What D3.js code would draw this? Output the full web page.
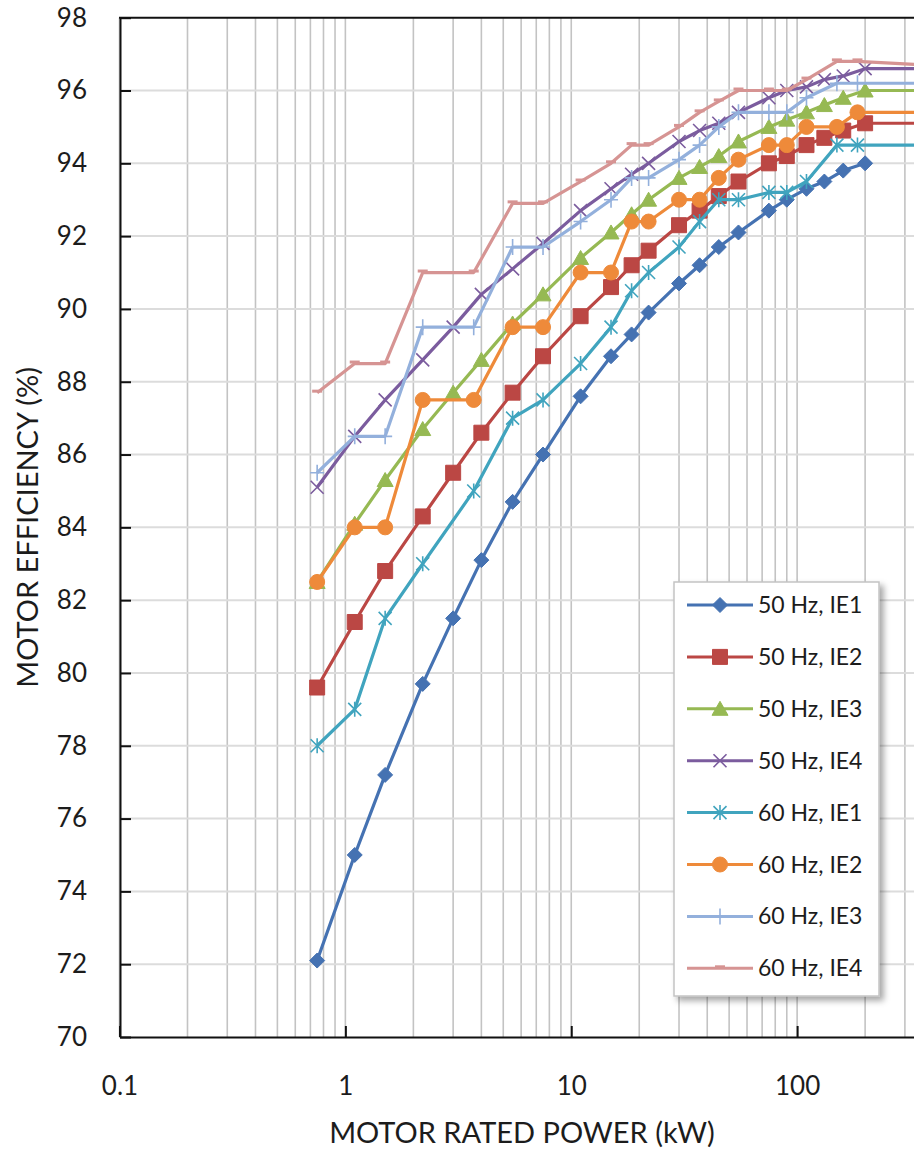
<!DOCTYPE html>
<html>
<head>
<meta charset="utf-8">
<script src="https://cdn.jsdelivr.net/npm/d3@7"></script>
<style>
	body { margin: 0; background: #fff; }
	svg text { font-family: Lato, "Open Sans", sans-serif; fill: #1c1c1c; }
</style>
</head>
<body>
<div id="chart"></div>
<script>
// Motor efficiency classes IE1-IE4, 50 Hz and 60 Hz, against rated power (log axis)

// rated power steps (kW)
var power50 = [0.75, 1.1, 1.5, 2.2, 3, 4, 5.5, 7.5, 11, 15, 18.5, 22, 30, 37, 45, 55, 75, 90, 110, 132, 160, 200, 375];
var power60 = [0.75, 1.1, 1.5, 2.2, 3.7, 5.5, 7.5, 11, 15, 18.5, 22, 30, 37, 45, 55, 75, 90, 110, 150, 185, 375];

// efficiency (%) per class
var eff50_IE1 = [72.1, 75.0, 77.2, 79.7, 81.5, 83.1, 84.7, 86.0, 87.6, 88.7, 89.3, 89.9, 90.7, 91.2, 91.7, 92.1, 92.7, 93.0, 93.3, 93.5, 93.8, 94.0];
var eff50_IE2 = [79.6, 81.4, 82.8, 84.3, 85.5, 86.6, 87.7, 88.7, 89.8, 90.6, 91.2, 91.6, 92.3, 92.7, 93.1, 93.5, 94.0, 94.2, 94.5, 94.7, 94.9, 95.1, 95.1];
var eff50_IE3 = [82.5, 84.1, 85.3, 86.7, 87.7, 88.6, 89.6, 90.4, 91.4, 92.1, 92.6, 93.0, 93.6, 93.9, 94.2, 94.6, 95.0, 95.2, 95.4, 95.6, 95.8, 96.0, 96.0];
var eff50_IE4 = [85.1, 86.5, 87.5, 88.6, 89.5, 90.4, 91.1, 91.8, 92.7, 93.3, 93.7, 94.0, 94.6, 94.9, 95.1, 95.4, 95.8, 96.0, 96.1, 96.3, 96.4, 96.6, 96.6];
var eff60_IE1 = [78.0, 79.0, 81.5, 83.0, 85.0, 87.0, 87.5, 88.5, 89.5, 90.5, 91.0, 91.7, 92.4, 93.0, 93.0, 93.2, 93.2, 93.5, 94.5, 94.5, 94.5];
var eff60_IE2 = [82.5, 84.0, 84.0, 87.5, 87.5, 89.5, 89.5, 91.0, 91.0, 92.4, 92.4, 93.0, 93.0, 93.6, 94.1, 94.5, 94.5, 95.0, 95.0, 95.4, 95.4];
var eff60_IE3 = [85.5, 86.5, 86.5, 89.5, 89.5, 91.7, 91.7, 92.4, 93.0, 93.6, 93.6, 94.1, 94.5, 95.0, 95.4, 95.4, 95.4, 95.8, 96.2, 96.2, 96.2];
var eff60_IE4 = [87.7, 88.5, 88.5, 91.0, 91.0, 92.9, 92.9, 93.5, 94.0, 94.5, 94.5, 95.0, 95.4, 95.7, 96.0, 96.0, 96.0, 96.3, 96.8, 96.8, 96.7];

var seriesNames = ["50 Hz, IE1", "50 Hz, IE2", "50 Hz, IE3", "50 Hz, IE4", "60 Hz, IE1", "60 Hz, IE2", "60 Hz, IE3", "60 Hz, IE4"];
var xTickValues = [0.1, 1, 10, 100];
var yTickValues = [70, 72, 74, 76, 78, 80, 82, 84, 86, 88, 90, 92, 94, 96, 98];

var colors = ["#4572b2", "#bb4744", "#96b953", "#7b5c9e", "#40a4be", "#ee8a3a", "#93b0dc", "#d69493"];
var markers = ["diamond", "square", "triangle", "x", "asterisk", "circle", "plus", "dash"];

// build series table
var powers = [power50, power50, power50, power50, power60, power60, power60, power60];
var effs = [eff50_IE1, eff50_IE2, eff50_IE3, eff50_IE4, eff60_IE1, eff60_IE2, eff60_IE3, eff60_IE4];
var series = seriesNames.map(function(name, i) {
	return {
		name: name,
		color: colors[i],
		marker: markers[i],
		points: effs[i].map(function(v, j) { return {p: powers[i][j], v: v}; })
	};
});

var width = 914, height = 1149;
var plotLeft = 120, plotTop = 17.7, plotBottom = 1037;

var x = d3.scaleLog().domain([0.1, 1000]).range([119.5, 1023]);
var y = d3.scaleLinear().domain([70, 98]).range([plotBottom, plotTop]);

var svg = d3.select("#chart")
	.append("svg")
		.attr("width", width)
		.attr("height", height);

// marker shapes
function markerPath(type) {
	switch (type) {
		case "diamond": return "M0,-7.5L7.5,0L0,7.5L-7.5,0Z";
		case "square": return "M-7.5,-7.5H7.5V7.5H-7.5Z";
		case "triangle": return "M0,-7.5L8,6.5L-8,6.5Z";
		case "x": return "M-6.5,-6.5L6.5,6.5M-6.5,6.5L6.5,-6.5";
		case "asterisk": return "M-6.5,-6.5L6.5,6.5M-6.5,6.5L6.5,-6.5M0,-7.5V7.5";
		case "circle": return "M7.5,0A7.5,7.5 0 1,1 -7.5,0A7.5,7.5 0 1,1 7.5,0Z";
		case "plus": return "M-7,0H7M0,-8V8";
		case "dash": return "M-5,-1.5H5";
	}
}
function isFilled(type) {
	return type == "diamond" || type == "square" || type == "triangle" || type == "circle";
}
function drawMarker(sel, s) {
	sel.append("path")
		.attr("d", markerPath(s.marker))
		.attr("fill", isFilled(s.marker) ? s.color : "none")
		.attr("stroke", s.color)
		.attr("stroke-width", isFilled(s.marker) ? 1 : (s.marker == "dash" ? 3 : 1.6));
}

// vertical grid lines (every minor step of the log axis)
var vGrid = [];
[0.1, 1, 10, 100].forEach(function(d) {
	for (var k = 1; k < 10; k++) vGrid.push(d * k);
});
vGrid.push(1000);

svg.append("g")
	.selectAll("line")
	.data(vGrid)
	.enter().append("line")
		.attr("x1", function(d) { return x(d); })
		.attr("x2", function(d) { return x(d); })
		.attr("y1", y(70))
		.attr("y2", y(98))
		.attr("stroke", "#c3c3c3")
		.attr("stroke-width", 1.6);

// horizontal grid lines
svg.append("g")
	.selectAll("line")
	.data(yTickValues.filter(function(d) { return d > 70 && d < 98; }))
	.enter().append("line")
		.attr("x1", plotLeft)
		.attr("x2", width)
		.attr("y1", function(d) { return y(d); })
		.attr("y2", function(d) { return y(d); })
		.attr("stroke", "#dcdcdc")
		.attr("stroke-width", 2);

// axes
var yAxis = d3.axisLeft(y)
	.tickValues(yTickValues)
	.tickSizeInner(-11)
	.tickSizeOuter(0)
	.tickPadding(33)
	.tickFormat(d3.format("d"));

var xAxis = d3.axisBottom(x)
	.tickValues(xTickValues)
	.tickSizeInner(-11)
	.tickSizeOuter(0)
	.tickPadding(40)
	.tickFormat(function(d) { return d < 1 ? "0.1" : d3.format("d")(d); });

svg.append("g")
	.attr("class", "y axis")
	.attr("transform", "translate(" + plotLeft + ",0)")
	.call(yAxis);

svg.append("g")
	.attr("class", "x axis")
	.attr("transform", "translate(0," + plotBottom + ")")
	.call(xAxis);

svg.selectAll(".axis path, .axis line")
	.attr("stroke", "#111")
	.attr("stroke-width", 2);
svg.selectAll(".axis").attr("font-family", null).attr("font-size", null);
svg.selectAll(".axis text")
	.style("font-size", "26px");

// top border of plot area
svg.append("line")
	.attr("x1", plotLeft - 1)
	.attr("x2", width)
	.attr("y1", plotTop)
	.attr("y2", plotTop)
	.attr("stroke", "#111")
	.attr("stroke-width", 2);

// series lines and markers
var line = d3.line()
	.x(function(d) { return x(d.p); })
	.y(function(d) { return y(d.v); });

series.forEach(function(s) {
	var g = svg.append("g");
	g.append("path")
		.attr("d", line(s.points))
		.attr("fill", "none")
		.attr("stroke", s.color)
		.attr("stroke-width", 3.2)
		.attr("stroke-linejoin", "round");
	g.selectAll("g.pt")
		.data(s.points)
		.enter().append("g")
			.attr("class", "pt")
			.attr("transform", function(d) { return "translate(" + x(d.p) + "," + y(d.v) + ")"; })
			.each(function() { drawMarker(d3.select(this), s); });
});

// axis titles
svg.append("text")
	.attr("x", 522)
	.attr("y", 1143)
	.attr("text-anchor", "middle")
	.style("font-size", "29px")
	.text("MOTOR RATED POWER (kW)");

svg.append("text")
	.attr("transform", "translate(38," + (plotTop + plotBottom) / 2 + ") rotate(-90)")
	.attr("text-anchor", "middle")
	.style("font-size", "29px")
	.text("MOTOR EFFICIENCY (%)");

// legend
var defs = svg.append("defs");
var shadow = defs.append("filter")
	.attr("id", "shadow")
	.attr("x", "-10%").attr("y", "-10%")
	.attr("width", "130%").attr("height", "130%");
shadow.append("feDropShadow")
	.attr("dx", 4).attr("dy", 4)
	.attr("stdDeviation", 3)
	.attr("flood-color", "#000")
	.attr("flood-opacity", 0.35);

var legend = svg.append("g").attr("transform", "translate(674,582)");
legend.append("rect")
	.attr("width", 205)
	.attr("height", 414)
	.attr("fill", "#fff")
	.attr("stroke", "#c4c4c4")
	.attr("stroke-width", 1.5)
	.attr("filter", "url(#shadow)");

var rows = legend.selectAll("g.row")
	.data(series)
	.enter().append("g")
		.attr("class", "row")
		.attr("transform", function(d, i) { return "translate(0," + (23 + i * 51.9) + ")"; });

rows.append("line")
	.attr("x1", 13)
	.attr("x2", 79)
	.attr("stroke", function(d) { return d.color; })
	.attr("stroke-width", 3);

rows.append("g")
	.attr("transform", "translate(46,0)")
	.each(function(d) { drawMarker(d3.select(this), d); });

rows.append("text")
	.attr("x", 84)
	.attr("y", 8)
	.style("font-size", "23px")
	.text(function(d) { return d.name; });
</script>
</body>
</html>
